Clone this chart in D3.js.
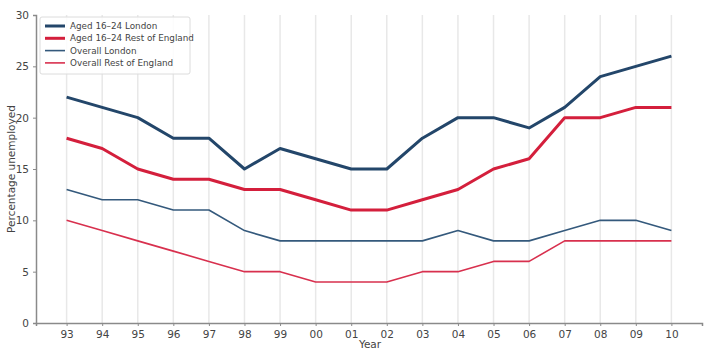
<!DOCTYPE html>
<html>
<head>
<meta charset="utf-8">
<script src="https://cdn.jsdelivr.net/npm/d3@7"></script>
<style>
  body { margin: 0; background: #fff; }
  text { font-family: "DejaVu Sans", sans-serif; }
</style>
</head>
<body>
<div id="chart"></div>
<script>
// Data
const years = ["93","94","95","96","97","98","99","00","01","02","03","04","05","06","07","08","09","10"];
const youngLondon = [22,21,20,18,18,15,17,16,15,15,18,20,20,19,21,24,25,26];
const youngRest = [18,17,15,14,14,13,13,12,11,11,12,13,15,16,20,20,21,21];
const allLondon = [13,12,12,11,11,9,8,8,8,8,8,9,8,8,9,10,10,9];
const allRest = [10,9,8,7,6,5,5,4,4,4,5,5,6,6,8,8,8,8];
const yTicks = [0,5,10,15,20,25,30];

const series = [
  {name: "Aged 16\u201324 London", values: youngLondon, color: "#23466a", width: 3},
  {name: "Aged 16\u201324 Rest of England", values: youngRest, color: "#d41f3c", width: 3},
  {name: "Overall London", values: allLondon, color: "#34597c", width: 1.6},
  {name: "Overall Rest of England", values: allRest, color: "#d8304e", width: 1.6}
];

const margin = {top: 15, right: 10, bottom: 31, left: 36},
      width = 712 - margin.left - margin.right,
      height = 354 - margin.top - margin.bottom;

const svg = d3.select("#chart")
    .append("svg")
    .attr("width", width + margin.left + margin.right)
    .attr("height", height + margin.top + margin.bottom)
    .append("g")
    .attr("transform", `translate(${margin.left},${margin.top})`);

const x = d3.scalePoint()
    .domain(years)
    .range([0, width])
    .padding(0.86);

const y = d3.scaleLinear()
    .domain([0, 30])
    .range([height, 0]);

// vertical grid
svg.selectAll("line.vgrid")
  .data(years)
  .enter()
  .append("line")
  .attr("class", "vgrid")
  .attr("x1", d => x(d))
  .attr("x2", d => x(d))
  .attr("y1", 0)
  .attr("y2", height)
  .style("stroke", "#e8e8e8")
  .style("stroke-width", 1.5);

// Axes
const xAxis = svg.append("g")
    .attr("transform", `translate(0,${height})`)
    .call(d3.axisBottom(x).tickSize(3).tickPadding(5));
const yAxis = svg.append("g")
    .call(d3.axisLeft(y).tickValues(yTicks).tickSize(3).tickPadding(4));

[xAxis, yAxis].forEach(a => {
  a.select(".domain").style("stroke", "#8a8a8a").style("stroke-width", 1.5);
  a.selectAll(".tick line").style("stroke", "#8a8a8a");
  a.selectAll(".tick text")
    .style("font-family", "DejaVu Sans, sans-serif")
    .style("font-size", "10.5px")
    .style("fill", "#444");
});

// Lines
const line = d3.line()
    .x((d, i) => x(years[i]))
    .y(d => y(d));

svg.selectAll("path.series")
  .data(series)
  .enter()
  .append("path")
  .attr("class", "series")
  .attr("d", d => line(d.values))
  .attr("fill", "none")
  .attr("stroke", d => d.color)
  .attr("stroke-width", d => d.width)
  .attr("stroke-linejoin", "round");

// Axis labels
svg.append("text")
    .attr("x", width / 2 + 1)
    .attr("y", height + 25)
    .attr("text-anchor", "middle")
    .style("font-size", "10.5px")
    .style("fill", "#444")
    .text("Year");

svg.append("text")
    .attr("transform", "rotate(-90)")
    .attr("x", -height / 2)
    .attr("y", -21)
    .attr("text-anchor", "middle")
    .style("font-size", "10.5px")
    .style("fill", "#444")
    .text("Percentage unemployed");

// Legend
const legend = svg.append("g").attr("transform", "translate(4,2)");
legend.append("rect")
    .attr("width", 150)
    .attr("height", 57)
    .attr("rx", 2)
    .attr("fill", "#fff")
    .attr("fill-opacity", 0.85)
    .attr("stroke", "#dcdcdc")
    .attr("stroke-width", 1);

const items = legend.selectAll("g.item")
  .data(series)
  .enter()
  .append("g")
  .attr("class", "item")
  .attr("transform", (d, i) => `translate(5,${9 + i * 12.3})`);
items.append("line")
    .attr("x1", 0).attr("x2", 20)
    .attr("stroke", d => d.color)
    .attr("stroke-width", d => d.width);
items.append("text")
    .attr("x", 25)
    .attr("dy", "0.35em")
    .style("font-size", "8.8px")
    .style("fill", "#444")
    .text(d => d.name);
</script>
</body>
</html>
